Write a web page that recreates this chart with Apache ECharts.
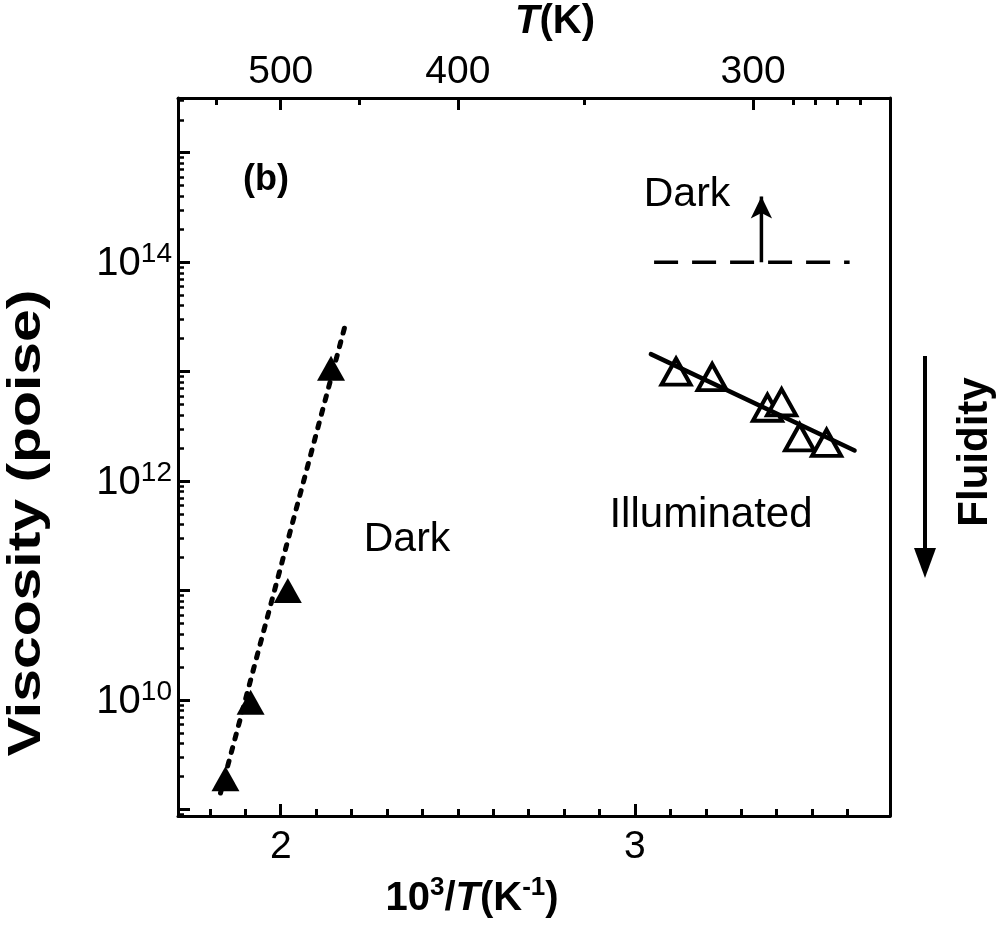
<!DOCTYPE html>
<html><head><meta charset="utf-8">
<script src="https://cdn.jsdelivr.net/npm/echarts@6/dist/echarts.min.js"></script>
<style>html,body{margin:0;padding:0;background:#fff}#c{width:1000px;height:929px}</style>
</head><body><div id="c"></div>
<script>
// ---- data (x = 10^3/T in K^-1, y = log10 viscosity in poise) ----
const darkX = [1.844, 1.915, 2.020, 2.142];
const darkLogEta = [9.28, 9.98, 11.0, 13.03];
const darkFitX = [1.83, 2.18];
const darkFitLogEta = [9.15, 13.40];
const illumX = [3.116, 3.218, 3.374, 3.414, 3.465, 3.541];
const illumLogEta = [13.00, 12.95, 12.67, 12.72, 12.40, 12.35];
const illumFitX = [3.045, 3.62];
const illumFitLogEta = [13.16, 12.28];
const darkLimitX = [3.054, 3.606];
const darkLimitLogEta = [14.0, 14.0];
const arrowX = [3.357, 3.357];
const arrowLogEta = [14.0, 14.6];

// ---- tick labels ----
const xTickLabels = [2, 3];
const xMinorTicks = [1.8, 1.9, 2.1, 2.2, 2.3, 2.4, 2.5, 2.6, 2.7, 2.8, 2.9, 3.1, 3.2, 3.3, 3.4, 3.5, 3.6];
const tempLabels = [500, 400, 300];
const tempMinorTicks = [550, 450, 350, 290, 285, 280, 275];
const yExpLabels = [10, 12, 14];
const yDecades = [9, 10, 11, 12, 13, 14, 15];

const X_MIN = 1.71, X_MAX = 3.72, Y_MIN = 8.94, Y_MAX = 15.5;
const FONT = '"Liberation Sans", Arial, Helvetica, sans-serif';

const yMinor = [];
for (let d = 8; d <= 15; d++) for (let k = 2; k <= 9; k++) {
  const v = d + Math.log10(k);
  if (v > Y_MIN && v < Y_MAX) yMinor.push(v);
}
const tempMajorPos = tempLabels.map(t => 1000 / t);
const tempMinorPos = tempMinorTicks.map(t => 1000 / t);

const zip = (a, b) => a.map((v, i) => [v, b[i]]);
const gridRect = { left: 178, right: 110, top: 98, bottom: 113 };
const black = '#000';

function xAxisBase(grid, pos) {
  return { gridIndex: grid, type: 'value', position: pos, min: X_MIN, max: X_MAX,
    splitLine: { show: false }, axisLine: { show: false } };
}
function yAxisBase(grid, pos) {
  return { gridIndex: grid, type: 'value', position: pos, min: Y_MIN, max: Y_MAX,
    splitLine: { show: false }, axisLine: { show: false } };
}

const chart = echarts.init(document.getElementById('c'), null, { renderer: 'canvas' });
chart.setOption({
  backgroundColor: '#fff',
  animation: false,
  grid: [Object.assign({}, gridRect), Object.assign({}, gridRect)],
  xAxis: [
    Object.assign(xAxisBase(0, 'bottom'), {
      axisLine: { show: true, onZero: false, lineStyle: { color: black, width: 3 } },
      axisTick: { show: true, inside: true, length: 12, customValues: xTickLabels, lineStyle: { color: black, width: 3 } },
      axisLabel: { show: true, customValues: xTickLabels, color: black, fontSize: 39, fontFamily: FONT, margin: 12 }
    }),
    Object.assign(xAxisBase(0, 'top'), {
      axisLine: { show: true, onZero: false, lineStyle: { color: black, width: 3 } },
      axisTick: { show: true, inside: true, length: 12, customValues: tempMajorPos, lineStyle: { color: black, width: 3 } },
      axisLabel: { show: true, customValues: tempMajorPos, color: black, fontSize: 39, fontFamily: FONT, margin: 6,
        formatter: v => String(Math.round(1000 / v)) }
    }),
    Object.assign(xAxisBase(1, 'bottom'), {
      axisTick: { show: true, inside: true, length: 7, customValues: xMinorTicks, lineStyle: { color: black, width: 3 } },
      axisLabel: { show: false }
    }),
    Object.assign(xAxisBase(1, 'top'), {
      axisTick: { show: true, inside: true, length: 7, customValues: tempMinorPos, lineStyle: { color: black, width: 3 } },
      axisLabel: { show: false }
    })
  ],
  yAxis: [
    Object.assign(yAxisBase(0, 'left'), {
      axisLine: { show: true, onZero: false, lineStyle: { color: black, width: 3 } },
      axisTick: { show: true, inside: true, length: 12, customValues: yDecades, lineStyle: { color: black, width: 3 } },
      axisLabel: { show: true, customValues: yExpLabels, margin: 6,
        formatter: v => '{n|10}{s|' + v + '}',
        rich: {
          n: { fontSize: 40, fontFamily: FONT, color: black, lineHeight: 44, verticalAlign: 'bottom' },
          s: { fontSize: 28, fontFamily: FONT, color: black, lineHeight: 30, verticalAlign: 'top' }
        } }
    }),
    Object.assign(yAxisBase(0, 'right'), {
      axisLine: { show: true, onZero: false, lineStyle: { color: black, width: 3 } },
      axisTick: { show: false }, axisLabel: { show: false }
    }),
    Object.assign(yAxisBase(1, 'left'), {
      axisTick: { show: true, inside: true, length: 6, customValues: yMinor, lineStyle: { color: black, width: 2.5 } },
      axisLabel: { show: false }
    })
  ],
  series: [
    { type: 'line', xAxisIndex: 0, yAxisIndex: 0, data: zip(darkFitX, darkFitLogEta), showSymbol: false,
      lineStyle: { color: black, width: 5, type: [5, 9], cap: 'round', opacity: 1 }, silent: true },
    { type: 'scatter', xAxisIndex: 0, yAxisIndex: 0, data: zip(darkX, darkLogEta), symbol: 'triangle',
      symbolSize: [28, 25], itemStyle: { color: black, opacity: 1 } },
    { type: 'line', xAxisIndex: 0, yAxisIndex: 0, data: zip(illumFitX, illumFitLogEta), showSymbol: false,
      lineStyle: { color: black, width: 4.5, cap: 'round', opacity: 1 }, silent: true },
    { type: 'scatter', xAxisIndex: 0, yAxisIndex: 0, data: zip(illumX, illumLogEta), symbol: 'triangle',
      symbolSize: [29, 26], itemStyle: { color: '#fff', borderColor: black, borderWidth: 4, opacity: 1 } },
    { type: 'line', xAxisIndex: 0, yAxisIndex: 0, data: zip(darkLimitX, darkLimitLogEta), showSymbol: false,
      lineStyle: { color: black, width: 3.5, type: [24, 14] }, silent: true },
    { type: 'line', xAxisIndex: 0, yAxisIndex: 0,
      data: [
        { value: [arrowX[0], arrowLogEta[0]], symbol: 'none' },
        { value: [arrowX[1], arrowLogEta[1]], symbol: 'arrow', symbolSize: [16, 22] }
      ],
      showSymbol: true, showAllSymbol: true, symbolKeepAspect: true,
      itemStyle: { color: black, opacity: 1 }, lineStyle: { color: black, width: 3.5 }, silent: true }
  ],
  graphic: [
    { type: 'text', x: 27, y: 523, rotation: Math.PI / 2, scaleX: 1.28,
      style: { text: 'Viscosity (poise)', font: 'bold 46px ' + FONT, fill: black, align: 'center', verticalAlign: 'middle' } },
    { type: 'text', x: 472, y: 897,
      style: { text: '{n|10}{s|3}{n|/}{i|T}{n|(K}{s|-1}{n|)}', align: 'center', verticalAlign: 'middle',
        rich: {
          n: { font: 'bold 40px ' + FONT, fill: black, lineHeight: 44, verticalAlign: 'bottom' },
          i: { font: 'italic bold 40px ' + FONT, fill: black, lineHeight: 44, verticalAlign: 'bottom' },
          s: { font: 'bold 26px ' + FONT, fill: black, lineHeight: 30, verticalAlign: 'top' }
        } } },
    { type: 'text', x: 555, y: 22,
      style: { text: '{i|T}{n|(K)}', align: 'center', verticalAlign: 'middle',
        rich: {
          n: { font: 'bold 40px ' + FONT, fill: black },
          i: { font: 'italic bold 40px ' + FONT, fill: black }
        } } },
    { type: 'text', x: 266, y: 180,
      style: { text: '(b)', font: 'bold 36px ' + FONT, fill: black, align: 'center', verticalAlign: 'middle' } },
    { type: 'text', x: 687, y: 195,
      style: { text: 'Dark', font: '41px ' + FONT, fill: black, align: 'center', verticalAlign: 'middle' } },
    { type: 'text', x: 407, y: 540,
      style: { text: 'Dark', font: '41px ' + FONT, fill: black, align: 'center', verticalAlign: 'middle' } },
    { type: 'text', x: 711, y: 515,
      style: { text: 'Illuminated', font: '42px ' + FONT, fill: black, align: 'center', verticalAlign: 'middle' } },
    { type: 'text', x: 975, y: 452, rotation: Math.PI / 2,
      style: { text: 'Fluidity', font: 'bold 42px ' + FONT, fill: black, align: 'center', verticalAlign: 'middle' } },
    { type: 'line', shape: { x1: 925, y1: 356, x2: 925, y2: 560 }, style: { stroke: black, lineWidth: 4 } },
    { type: 'polygon', shape: { points: [[914, 548], [936, 548], [925, 578]] }, style: { fill: black } }
  ]
});
</script>
</body></html>
